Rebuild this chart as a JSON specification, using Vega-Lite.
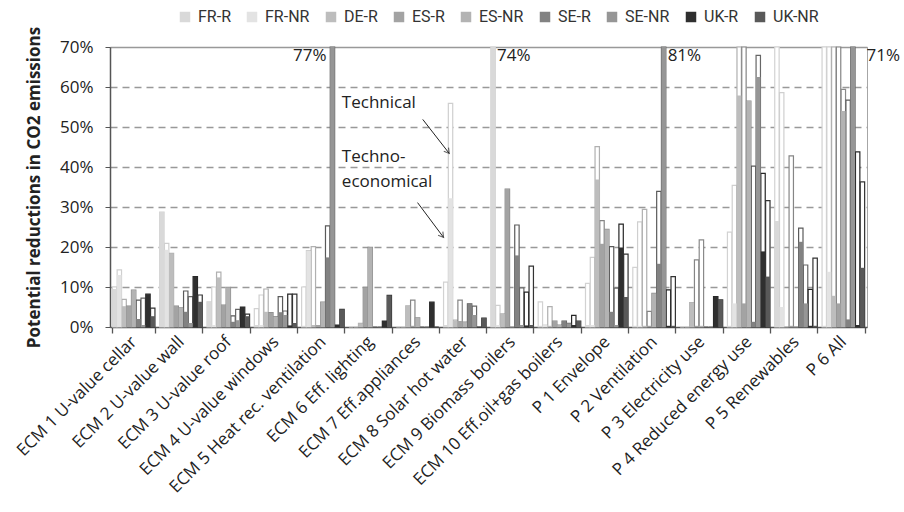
{
  "$schema": "https://vega.github.io/schema/vega-lite/v6.json",
  "width": 757,
  "height": 280,
  "autosize": {"type": "none"},
  "padding": {"left": 110, "top": 47, "right": 37, "bottom": 185},
  "background": "white",
  "config": {
    "font": "Open Sans",
    "view": {"stroke": "#a6a6a6", "strokeWidth": 1},
    "axisX": {"tickBand": "extent", "domainColor": "#555", "domainWidth": 1.5, "tickColor": "#555", "tickSize": 6, "tickWidth": 1.3, "labelAngle": -45, "labelAlign": "right", "labelBaseline": "middle", "labelFontSize": 17, "labelColor": "#222", "labelPadding": 6, "labelLimit": 400},
    "axisY": {"values": [0, 0.1, 0.2, 0.3, 0.4, 0.5, 0.6, 0.7], "format": ".0%", "grid": true, "gridDash": {"condition": {"test": "datum.value >= 0.69", "value": []}, "value": [7, 5]}, "gridOpacity": {"condition": {"test": "datum.value === 0", "value": 0}, "value": 1}, "gridColor": "#999", "gridWidth": 1.3, "domainColor": "#555", "domainWidth": 1.5, "tickColor": "#555", "tickSize": 5, "labelFontSize": 17, "labelColor": "#222", "labelPadding": 12, "titleFontSize": 17, "titleFontWeight": "bold", "titleColor": "#222", "titleFont": "Open Sans", "titlePadding": 16}
  },
  "datasets": {
    "bars": [
      {"c": "ECM 1 U-value cellar", "s": "FR-R", "tech": 0.100, "te": 0.095},
      {"c": "ECM 1 U-value cellar", "s": "FR-NR", "tech": 0.143, "te": 0.130},
      {"c": "ECM 1 U-value cellar", "s": "DE-R", "tech": 0.069, "te": 0.052},
      {"c": "ECM 1 U-value cellar", "s": "ES-R", "tech": 0.052, "te": 0.052},
      {"c": "ECM 1 U-value cellar", "s": "ES-NR", "tech": 0.092, "te": 0.092},
      {"c": "ECM 1 U-value cellar", "s": "SE-R", "tech": 0.067, "te": 0.020},
      {"c": "ECM 1 U-value cellar", "s": "SE-NR", "tech": 0.072, "te": 0.005},
      {"c": "ECM 1 U-value cellar", "s": "UK-R", "tech": 0.082, "te": 0.082},
      {"c": "ECM 1 U-value cellar", "s": "UK-NR", "tech": 0.047, "te": 0.027},
      {"c": "ECM 2 U-value wall", "s": "FR-R", "tech": 0.287, "te": 0.287},
      {"c": "ECM 2 U-value wall", "s": "FR-NR", "tech": 0.209, "te": 0.193},
      {"c": "ECM 2 U-value wall", "s": "DE-R", "tech": 0.184, "te": 0.184},
      {"c": "ECM 2 U-value wall", "s": "ES-R", "tech": 0.052, "te": 0.052},
      {"c": "ECM 2 U-value wall", "s": "ES-NR", "tech": 0.048, "te": 0.048},
      {"c": "ECM 2 U-value wall", "s": "SE-R", "tech": 0.090, "te": 0.038},
      {"c": "ECM 2 U-value wall", "s": "SE-NR", "tech": 0.076, "te": 0.010},
      {"c": "ECM 2 U-value wall", "s": "UK-R", "tech": 0.126, "te": 0.126},
      {"c": "ECM 2 U-value wall", "s": "UK-NR", "tech": 0.080, "te": 0.063},
      {"c": "ECM 3 U-value roof", "s": "FR-R", "tech": 0.063, "te": 0.063},
      {"c": "ECM 3 U-value roof", "s": "FR-NR", "tech": 0.100, "te": 0.005},
      {"c": "ECM 3 U-value roof", "s": "DE-R", "tech": 0.137, "te": 0.124},
      {"c": "ECM 3 U-value roof", "s": "ES-R", "tech": 0.055, "te": 0.055},
      {"c": "ECM 3 U-value roof", "s": "ES-NR", "tech": 0.099, "te": 0.099},
      {"c": "ECM 3 U-value roof", "s": "SE-R", "tech": 0.028, "te": 0.013},
      {"c": "ECM 3 U-value roof", "s": "SE-NR", "tech": 0.044, "te": 0.017},
      {"c": "ECM 3 U-value roof", "s": "UK-R", "tech": 0.050, "te": 0.050},
      {"c": "ECM 3 U-value roof", "s": "UK-NR", "tech": 0.032, "te": 0.027},
      {"c": "ECM 4 U-value windows", "s": "FR-R", "tech": 0.046, "te": 0.005},
      {"c": "ECM 4 U-value windows", "s": "FR-NR", "tech": 0.080, "te": 0.005},
      {"c": "ECM 4 U-value windows", "s": "DE-R", "tech": 0.095, "te": 0.038},
      {"c": "ECM 4 U-value windows", "s": "ES-R", "tech": 0.036, "te": 0.036},
      {"c": "ECM 4 U-value windows", "s": "ES-NR", "tech": 0.026, "te": 0.026},
      {"c": "ECM 4 U-value windows", "s": "SE-R", "tech": 0.076, "te": 0.037},
      {"c": "ECM 4 U-value windows", "s": "SE-NR", "tech": 0.040, "te": 0.030},
      {"c": "ECM 4 U-value windows", "s": "UK-R", "tech": 0.082, "te": 0.004},
      {"c": "ECM 4 U-value windows", "s": "UK-NR", "tech": 0.082, "te": 0.010},
      {"c": "ECM 5 Heat rec. ventilation", "s": "FR-R", "tech": 0.100, "te": 0.003},
      {"c": "ECM 5 Heat rec. ventilation", "s": "FR-NR", "tech": 0.191, "te": 0.190},
      {"c": "ECM 5 Heat rec. ventilation", "s": "DE-R", "tech": 0.201, "te": 0.005},
      {"c": "ECM 5 Heat rec. ventilation", "s": "ES-R", "tech": 0.003, "te": 0.003},
      {"c": "ECM 5 Heat rec. ventilation", "s": "ES-NR", "tech": 0.062, "te": 0.062},
      {"c": "ECM 5 Heat rec. ventilation", "s": "SE-R", "tech": 0.253, "te": 0.174},
      {"c": "ECM 5 Heat rec. ventilation", "s": "SE-NR", "tech": 0.77, "te": 0.77},
      {"c": "ECM 5 Heat rec. ventilation", "s": "UK-R", "tech": 0.005, "te": 0.005},
      {"c": "ECM 5 Heat rec. ventilation", "s": "UK-NR", "tech": 0.044, "te": 0.044},
      {"c": "ECM 6 Eff. lighting", "s": "FR-R", "tech": 0, "te": 0},
      {"c": "ECM 6 Eff. lighting", "s": "FR-NR", "tech": 0, "te": 0},
      {"c": "ECM 6 Eff. lighting", "s": "DE-R", "tech": 0.009, "te": 0.009},
      {"c": "ECM 6 Eff. lighting", "s": "ES-R", "tech": 0.099, "te": 0.099},
      {"c": "ECM 6 Eff. lighting", "s": "ES-NR", "tech": 0.199, "te": 0.199},
      {"c": "ECM 6 Eff. lighting", "s": "SE-R", "tech": 0, "te": 0},
      {"c": "ECM 6 Eff. lighting", "s": "SE-NR", "tech": 0, "te": 0},
      {"c": "ECM 6 Eff. lighting", "s": "UK-R", "tech": 0.015, "te": 0.015},
      {"c": "ECM 6 Eff. lighting", "s": "UK-NR", "tech": 0.079, "te": 0.079},
      {"c": "ECM 7 Eff.appliances", "s": "FR-R", "tech": 0, "te": 0},
      {"c": "ECM 7 Eff.appliances", "s": "FR-NR", "tech": 0, "te": 0},
      {"c": "ECM 7 Eff.appliances", "s": "DE-R", "tech": 0.053, "te": 0.053},
      {"c": "ECM 7 Eff.appliances", "s": "ES-R", "tech": 0.067, "te": 0.003},
      {"c": "ECM 7 Eff.appliances", "s": "ES-NR", "tech": 0.023, "te": 0.023},
      {"c": "ECM 7 Eff.appliances", "s": "SE-R", "tech": 0, "te": 0},
      {"c": "ECM 7 Eff.appliances", "s": "SE-NR", "tech": 0, "te": 0},
      {"c": "ECM 7 Eff.appliances", "s": "UK-R", "tech": 0.062, "te": 0.062},
      {"c": "ECM 7 Eff.appliances", "s": "UK-NR", "tech": 0, "te": 0},
      {"c": "ECM 8 Solar hot water", "s": "FR-R", "tech": 0.112, "te": 0.005},
      {"c": "ECM 8 Solar hot water", "s": "FR-NR", "tech": 0.559, "te": 0.322},
      {"c": "ECM 8 Solar hot water", "s": "DE-R", "tech": 0.017, "te": 0.015},
      {"c": "ECM 8 Solar hot water", "s": "ES-R", "tech": 0.067, "te": 0.015},
      {"c": "ECM 8 Solar hot water", "s": "ES-NR", "tech": 0.012, "te": 0.012},
      {"c": "ECM 8 Solar hot water", "s": "SE-R", "tech": 0.058, "te": 0.058},
      {"c": "ECM 8 Solar hot water", "s": "SE-NR", "tech": 0.052, "te": 0.030},
      {"c": "ECM 8 Solar hot water", "s": "UK-R", "tech": 0, "te": 0},
      {"c": "ECM 8 Solar hot water", "s": "UK-NR", "tech": 0.022, "te": 0.022},
      {"c": "ECM 9 Biomass boilers", "s": "FR-R", "tech": 0.74, "te": 0.74},
      {"c": "ECM 9 Biomass boilers", "s": "FR-NR", "tech": 0.054, "te": 0.005},
      {"c": "ECM 9 Biomass boilers", "s": "DE-R", "tech": 0.033, "te": 0.033},
      {"c": "ECM 9 Biomass boilers", "s": "ES-R", "tech": 0.345, "te": 0.345},
      {"c": "ECM 9 Biomass boilers", "s": "ES-NR", "tech": 0, "te": 0},
      {"c": "ECM 9 Biomass boilers", "s": "SE-R", "tech": 0.255, "te": 0.179},
      {"c": "ECM 9 Biomass boilers", "s": "SE-NR", "tech": 0.098, "te": 0.005},
      {"c": "ECM 9 Biomass boilers", "s": "UK-R", "tech": 0.087, "te": 0.004},
      {"c": "ECM 9 Biomass boilers", "s": "UK-NR", "tech": 0.152, "te": 0.005},
      {"c": "ECM 10 Eff.oil+gas boilers", "s": "FR-R", "tech": 0.063, "te": 0.003},
      {"c": "ECM 10 Eff.oil+gas boilers", "s": "FR-NR", "tech": 0.005, "te": 0.005},
      {"c": "ECM 10 Eff.oil+gas boilers", "s": "DE-R", "tech": 0.051, "te": 0.003},
      {"c": "ECM 10 Eff.oil+gas boilers", "s": "ES-R", "tech": 0.015, "te": 0.015},
      {"c": "ECM 10 Eff.oil+gas boilers", "s": "ES-NR", "tech": 0.005, "te": 0.005},
      {"c": "ECM 10 Eff.oil+gas boilers", "s": "SE-R", "tech": 0.015, "te": 0.015},
      {"c": "ECM 10 Eff.oil+gas boilers", "s": "SE-NR", "tech": 0.009, "te": 0.009},
      {"c": "ECM 10 Eff.oil+gas boilers", "s": "UK-R", "tech": 0.029, "te": 0.005},
      {"c": "ECM 10 Eff.oil+gas boilers", "s": "UK-NR", "tech": 0.015, "te": 0.015},
      {"c": "P 1 Envelope", "s": "FR-R", "tech": 0.109, "te": 0.005},
      {"c": "P 1 Envelope", "s": "FR-NR", "tech": 0.174, "te": 0.005},
      {"c": "P 1 Envelope", "s": "DE-R", "tech": 0.451, "te": 0.369},
      {"c": "P 1 Envelope", "s": "ES-R", "tech": 0.266, "te": 0.208},
      {"c": "P 1 Envelope", "s": "ES-NR", "tech": 0.244, "te": 0.244},
      {"c": "P 1 Envelope", "s": "SE-R", "tech": 0.201, "te": 0.038},
      {"c": "P 1 Envelope", "s": "SE-NR", "tech": 0.097, "te": 0.005},
      {"c": "P 1 Envelope", "s": "UK-R", "tech": 0.257, "te": 0.199},
      {"c": "P 1 Envelope", "s": "UK-NR", "tech": 0.182, "te": 0.075},
      {"c": "P 2 Ventilation", "s": "FR-R", "tech": 0.149, "te": 0.003},
      {"c": "P 2 Ventilation", "s": "FR-NR", "tech": 0.263, "te": 0.003},
      {"c": "P 2 Ventilation", "s": "DE-R", "tech": 0.294, "te": 0.003},
      {"c": "P 2 Ventilation", "s": "ES-R", "tech": 0.039, "te": 0.003},
      {"c": "P 2 Ventilation", "s": "ES-NR", "tech": 0.084, "te": 0.084},
      {"c": "P 2 Ventilation", "s": "SE-R", "tech": 0.339, "te": 0.158},
      {"c": "P 2 Ventilation", "s": "SE-NR", "tech": 0.81, "te": 0.81},
      {"c": "P 2 Ventilation", "s": "UK-R", "tech": 0.093, "te": 0.003},
      {"c": "P 2 Ventilation", "s": "UK-NR", "tech": 0.126, "te": 0.003},
      {"c": "P 3 Electricity use", "s": "FR-R", "tech": 0, "te": 0},
      {"c": "P 3 Electricity use", "s": "FR-NR", "tech": 0, "te": 0},
      {"c": "P 3 Electricity use", "s": "DE-R", "tech": 0.061, "te": 0.061},
      {"c": "P 3 Electricity use", "s": "ES-R", "tech": 0.168, "te": 0.003},
      {"c": "P 3 Electricity use", "s": "ES-NR", "tech": 0.218, "te": 0.003},
      {"c": "P 3 Electricity use", "s": "SE-R", "tech": 0, "te": 0},
      {"c": "P 3 Electricity use", "s": "SE-NR", "tech": 0, "te": 0},
      {"c": "P 3 Electricity use", "s": "UK-R", "tech": 0.076, "te": 0.076},
      {"c": "P 3 Electricity use", "s": "UK-NR", "tech": 0.068, "te": 0.068},
      {"c": "P 4 Reduced energy use", "s": "FR-R", "tech": 0.237, "te": 0.003},
      {"c": "P 4 Reduced energy use", "s": "FR-NR", "tech": 0.354, "te": 0.059},
      {"c": "P 4 Reduced energy use", "s": "DE-R", "tech": 0.72, "te": 0.579},
      {"c": "P 4 Reduced energy use", "s": "ES-R", "tech": 0.72, "te": 0.059},
      {"c": "P 4 Reduced energy use", "s": "ES-NR", "tech": 0.565, "te": 0.565},
      {"c": "P 4 Reduced energy use", "s": "SE-R", "tech": 0.402, "te": 0.013},
      {"c": "P 4 Reduced energy use", "s": "SE-NR", "tech": 0.679, "te": 0.625},
      {"c": "P 4 Reduced energy use", "s": "UK-R", "tech": 0.384, "te": 0.189},
      {"c": "P 4 Reduced energy use", "s": "UK-NR", "tech": 0.316, "te": 0.126},
      {"c": "P 5 Renewables", "s": "FR-R", "tech": 0.72, "te": 0.265},
      {"c": "P 5 Renewables", "s": "FR-NR", "tech": 0.586, "te": 0.050},
      {"c": "P 5 Renewables", "s": "DE-R", "tech": 0, "te": 0},
      {"c": "P 5 Renewables", "s": "ES-R", "tech": 0.428, "te": 0.003},
      {"c": "P 5 Renewables", "s": "ES-NR", "tech": 0, "te": 0},
      {"c": "P 5 Renewables", "s": "SE-R", "tech": 0.247, "te": 0.213},
      {"c": "P 5 Renewables", "s": "SE-NR", "tech": 0.155, "te": 0.059},
      {"c": "P 5 Renewables", "s": "UK-R", "tech": 0.094, "te": 0.003},
      {"c": "P 5 Renewables", "s": "UK-NR", "tech": 0.172, "te": 0.003},
      {"c": "P 6 All", "s": "FR-R", "tech": 0.72, "te": 0.003},
      {"c": "P 6 All", "s": "FR-NR", "tech": 0.72, "te": 0.138},
      {"c": "P 6 All", "s": "DE-R", "tech": 0.72, "te": 0.078},
      {"c": "P 6 All", "s": "ES-R", "tech": 0.72, "te": 0.059},
      {"c": "P 6 All", "s": "ES-NR", "tech": 0.594, "te": 0.54},
      {"c": "P 6 All", "s": "SE-R", "tech": 0.567, "te": 0.019},
      {"c": "P 6 All", "s": "SE-NR", "tech": 0.71, "te": 0.71},
      {"c": "P 6 All", "s": "UK-R", "tech": 0.438, "te": 0.005},
      {"c": "P 6 All", "s": "UK-NR", "tech": 0.363, "te": 0.148}
    ],
    "pct": [
      {"c": "ECM 5 Heat rec. ventilation", "s": "SE-NR", "label": "77%", "side": "left"},
      {"c": "ECM 9 Biomass boilers", "s": "FR-R", "label": "74%", "side": "right"},
      {"c": "P 2 Ventilation", "s": "SE-NR", "label": "81%", "side": "right"},
      {"c": "P 6 All", "s": "UK-NR", "label": "71%", "side": "right"}
    ],
    "notes": [
      {"ax": 4.90, "ay": 0.561, "label": "Technical"},
      {"ax": 4.90, "ay": 0.424, "label": "Techno-"},
      {"ax": 4.90, "ay": 0.362, "label": "economical"}
    ],
    "arrows": [
      {"x1": 6.61, "y1": 0.519, "x2": 7.17, "y2": 0.434},
      {"x1": 6.50, "y1": 0.311, "x2": 7.05, "y2": 0.224}
    ]
  },
  "layer": [
    {
      "layer": [
        {
          "data": {"name": "bars"},
          "mark": {"type": "bar", "fill": "white", "strokeWidth": 1.2},
          "encoding": {
            "x": {"field": "c", "type": "nominal", "title": null, "scale": {"domain": ["ECM 1 U-value cellar", "ECM 2 U-value wall", "ECM 3 U-value roof", "ECM 4 U-value windows", "ECM 5 Heat rec. ventilation", "ECM 6 Eff. lighting", "ECM 7 Eff.appliances", "ECM 8 Solar hot water", "ECM 9 Biomass boilers", "ECM 10 Eff.oil+gas boilers", "P 1 Envelope", "P 2 Ventilation", "P 3 Electricity use", "P 4 Reduced energy use", "P 5 Renewables", "P 6 All"], "paddingInner": 0.1, "paddingOuter": 0.05}},
            "xOffset": {"field": "s", "type": "nominal", "scale": {"domain": ["FR-R", "FR-NR", "DE-R", "ES-R", "ES-NR", "SE-R", "SE-NR", "UK-R", "UK-NR"], "paddingInner": 0.08}},
            "y": {"field": "tech", "type": "quantitative", "title": "Potential reductions in CO2 emissions", "scale": {"domain": [0, 0.7], "clamp": true, "nice": false}},
            "stroke": {"field": "s", "type": "nominal", "scale": {"domain": ["UK-NR", "UK-R", "SE-NR", "SE-R", "ES-NR", "ES-R", "DE-R", "FR-NR", "FR-R"], "range": ["#333333", "#262626", "#666666", "#5a5a5a", "#8a8a8a", "#858585", "#b0b0b0", "#cfcfcf", "#d2d2d2"]}, "legend": null}
          }
        },
        {
          "data": {"name": "bars"},
          "mark": {"type": "bar", "strokeWidth": 0},
          "encoding": {
            "x": {"field": "c", "type": "nominal", "title": null},
            "xOffset": {"field": "s", "type": "nominal"},
            "y": {"field": "te", "type": "quantitative", "title": "Potential reductions in CO2 emissions", "scale": {"domain": [0, 0.7], "clamp": true, "nice": false}},
            "fill": {"field": "s", "type": "nominal", "scale": {"domain": ["FR-R", "FR-NR", "DE-R", "ES-R", "ES-NR", "SE-R", "SE-NR", "UK-R", "UK-NR"], "range": ["#d9d9d9", "#e3e3e3", "#bdbdbd", "#a3a3a3", "#b3b3b3", "#828282", "#969696", "#2f2f2f", "#595959"]}, "legend": {"title": null, "orient": "none", "legendX": 67, "legendY": -38, "direction": "horizontal", "columns": 9, "symbolType": "square", "symbolSize": 110, "symbolStrokeWidth": 0, "labelFont": "Roboto", "labelFontSize": 16, "labelColor": "#333", "columnPadding": 13, "labelOffset": 5}}
          }
        },
        {
          "data": {"name": "pct"},
          "transform": [{"filter": "datum.side === 'left'"}],
          "mark": {"type": "text", "align": "right", "baseline": "top", "dx": -6, "dy": 1, "fontSize": 17, "color": "#222"},
          "encoding": {
            "x": {"field": "c", "type": "nominal", "title": null},
            "xOffset": {"field": "s", "type": "nominal"},
            "y": {"datum": 0.7, "type": "quantitative", "title": "Potential reductions in CO2 emissions"},
            "text": {"field": "label"}
          }
        },
        {
          "data": {"name": "pct"},
          "transform": [{"filter": "datum.side === 'right'"}],
          "mark": {"type": "text", "align": "left", "baseline": "top", "dx": 4, "dy": 1, "fontSize": 17, "color": "#222"},
          "encoding": {
            "x": {"field": "c", "type": "nominal", "title": null},
            "xOffset": {"field": "s", "type": "nominal"},
            "y": {"datum": 0.7, "type": "quantitative", "title": "Potential reductions in CO2 emissions"},
            "text": {"field": "label"}
          }
        }
      ]
    },
    {
      "layer": [
        {
          "data": {"name": "notes"},
          "mark": {"type": "text", "align": "left", "baseline": "middle", "fontSize": 17, "color": "#222"},
          "encoding": {
            "x": {"field": "ax", "type": "quantitative", "axis": null, "scale": {"domain": [0, 16], "nice": false, "zero": false}},
            "y": {"field": "ay", "type": "quantitative", "title": "Potential reductions in CO2 emissions", "scale": {"domain": [0, 0.7], "nice": false}},
            "text": {"field": "label"}
          }
        },
        {
          "data": {"name": "arrows"},
          "mark": {"type": "rule", "color": "#222", "strokeWidth": 1},
          "encoding": {
            "x": {"field": "x1", "type": "quantitative", "axis": null},
            "x2": {"field": "x2"},
            "y": {"field": "y1", "type": "quantitative", "title": "Potential reductions in CO2 emissions"},
            "y2": {"field": "y2"}
          }
        },
        {
          "data": {"name": "arrows"},
          "mark": {"type": "point", "shape": "M-1,-0.6L0,0L-1,0.6", "angle": 52, "size": 100, "filled": false, "stroke": "#222", "strokeWidth": 1.1},
          "encoding": {
            "x": {"field": "x2", "type": "quantitative", "axis": null},
            "y": {"field": "y2", "type": "quantitative", "title": "Potential reductions in CO2 emissions"}
          }
        }
      ]
    }
  ],
  "resolve": {"scale": {"x": "independent"}}
}
